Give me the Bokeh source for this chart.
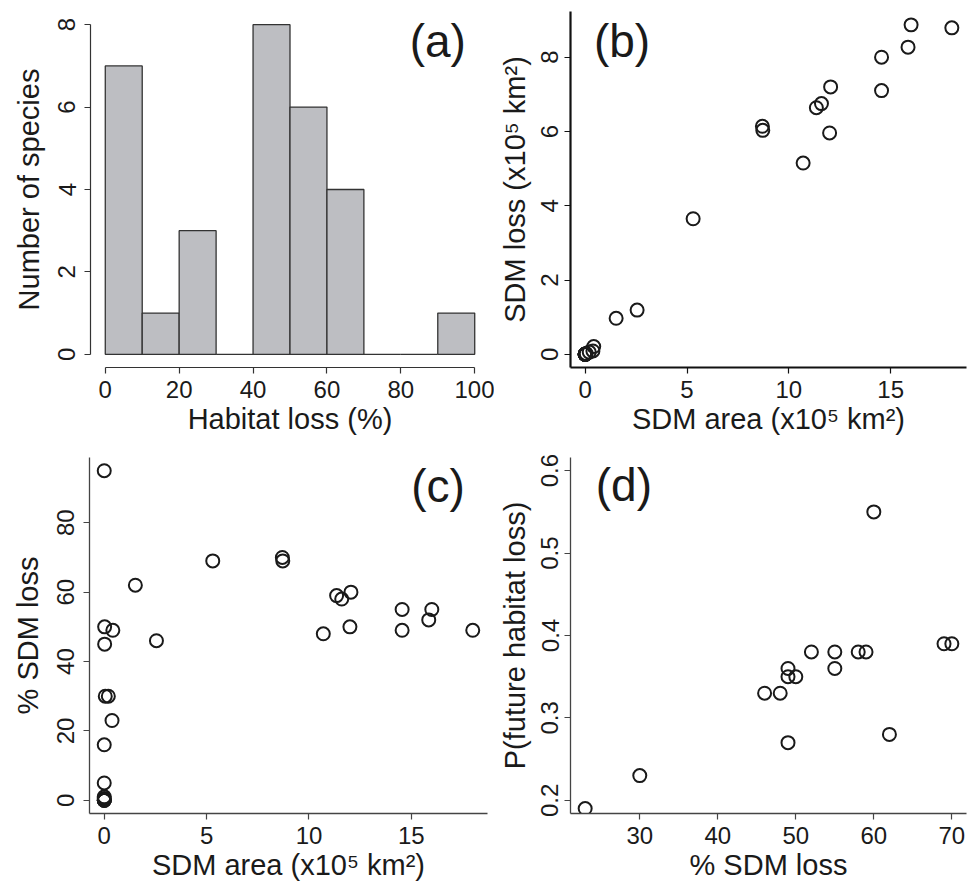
import math
from bokeh.plotting import figure
from bokeh.models import Range1d, FixedTicker, Label
from bokeh.layouts import column, row
from bokeh.embed import file_html
from bokeh.resources import INLINE

FONT = "Liberation Sans"
INK = "#1a1a1a"

# ---- (a) histogram of % SDM loss ----
bin_left = [0, 10, 20, 30, 40, 50, 60, 70, 80, 90]
bin_right = [10, 20, 30, 40, 50, 60, 70, 80, 90, 100]
hist_counts = [7, 1, 3, 0, 8, 6, 4, 0, 0, 1]

# ---- (b) and (c): per-species SDM values ----
sdm_area = [16.0, 18.0, 15.85, 14.55, 12.05, 14.55, 11.6, 11.35, 8.7, 8.72,
            12.0, 10.7, 5.3, 2.55, 1.52, 0.42, 0.38, 0.2, 0.05, 0.02,
            0.02, 0.0, 0.0, 0.0, 0.0, 0.0, 0.0, 0.0, 0.0, 0.0]
sdm_loss = [8.87, 8.79, 8.27, 8.0, 7.2, 7.1, 6.75, 6.64, 6.14, 6.03,
            5.96, 5.15, 3.65, 1.19, 0.97, 0.21, 0.09, 0.06, 0.02, 0.01,
            0.01, 0.0, 0.0, 0.0, 0.0, 0.0, 0.0, 0.0, 0.0, 0.0]
pct_sdm_loss = [55, 49, 52, 55, 60, 49, 58, 59, 70, 69,
                50, 48, 69, 46, 62, 49, 23, 30, 30, 50,
                45, 95, 16, 5, 1, 0.5, 0, 0, 0, 0]

# ---- (d) ----
d_pct_loss = [23, 30, 49, 62, 46, 48, 49, 50, 49, 55, 52, 55, 58, 59, 69, 70, 60]
d_p_future = [0.19, 0.23, 0.27, 0.28, 0.33, 0.33, 0.35, 0.35, 0.36, 0.36,
              0.38, 0.38, 0.38, 0.38, 0.39, 0.39, 0.55]

# tick positions
a_xticks = [0, 20, 40, 60, 80, 100]
a_yticks = [0, 2, 4, 6, 8]
b_xticks = [0, 5, 10, 15]
b_yticks = [0, 2, 4, 6, 8]
c_xticks = [0, 5, 10, 15]
c_yticks = [0, 20, 40, 60, 80]
d_xticks = [30, 40, 50, 60, 70]
d_yticks = [0.2, 0.3, 0.4, 0.5, 0.6]


def make_fig(width, height, xr, yr, mbl, mbr, mbt, mbb):
    p = figure(width=width, height=height, x_range=Range1d(*xr), y_range=Range1d(*yr),
               output_backend="svg", toolbar_location=None,
               min_border_left=mbl, min_border_right=mbr,
               min_border_top=mbt, min_border_bottom=mbb)
    p.grid.visible = False
    p.outline_line_color = None
    p.background_fill_color = "white"
    p.border_fill_color = "white"
    return p


def style(p, xticks, yticks, xlabel, ylabel, axis_w, axis_col, bounded, ylab_so, ytitle_so):
    p.xaxis.ticker = FixedTicker(ticks=xticks)
    p.yaxis.ticker = FixedTicker(ticks=yticks)
    p.xaxis.axis_label = xlabel
    p.yaxis.axis_label = ylabel
    if bounded:
        p.xaxis.bounds = (xticks[0], xticks[-1])
        p.yaxis.bounds = (yticks[0], yticks[-1])
    for ax in p.xaxis + p.yaxis:
        ax.axis_line_color = axis_col
        ax.axis_line_width = axis_w
        ax.major_tick_line_color = axis_col
        ax.major_tick_line_width = 1.2
        ax.major_tick_out = 6
        ax.major_tick_in = 0
        ax.minor_tick_out = 0
        ax.minor_tick_in = 0
        ax.major_label_text_font = FONT
        ax.major_label_text_font_size = "24px"
        ax.major_label_text_color = INK
        ax.axis_label_text_font = FONT
        ax.axis_label_text_font_size = "29px"
        ax.axis_label_text_font_style = "normal"
        ax.axis_label_text_color = INK
    p.xaxis.major_label_standoff = 7
    p.xaxis.axis_label_standoff = 2
    p.yaxis.major_label_standoff = ylab_so
    p.yaxis.axis_label_standoff = ytitle_so
    p.yaxis.major_label_orientation = "vertical"


def panel_label(p, x, y, txt):
    p.add_layout(Label(x=x, y=y, text=txt, text_font=FONT, text_font_size="46px",
                       text_align="center", text_baseline="middle", text_color=INK))


# (a)
pa = make_fig(494, 444, (-4, 104), (-0.32, 8.32), 90, 5, 11, 77)
pa.quad(left=bin_left, right=bin_right, bottom=0, top=hist_counts,
        fill_color="#bdbec2", line_color="#333333", line_width=1.3)
style(pa, a_xticks, a_yticks, "Habitat loss (%)", "Number of species", 1.2, "#333333", True, 9, 11)
panel_label(pa, 90, 7.61, "(a)")

# (b)
pb = make_fig(473, 444, (-0.72, 18.72), (-0.355, 9.23), 76, 1, 10, 77)
pb.scatter(sdm_area, sdm_loss, marker="circle", size=13, fill_color=None,
           line_color=INK, line_width=2)
style(pb, b_xticks, b_yticks, "SDM area (x10\u2075 km\u00b2)", "SDM loss (x10\u2075 km\u00b2)",
      2.2, "#111111", False, 6, 8)
panel_label(pb, 1.81, 8.44, "(b)")

# (c)
pc = make_fig(494, 439, (-0.72, 18.72), (-3.8, 98.8), 89, 7, 11, 70)
pc.scatter(sdm_area, pct_sdm_loss, marker="circle", size=13, fill_color=None,
           line_color=INK, line_width=2)
style(pc, c_xticks, c_yticks, "SDM area (x10\u2075 km\u00b2)", "% SDM loss", 1.3, "#444444", False, 9, 11)
panel_label(pc, 16.3, 90.6, "(c)")

# (d)
pd = make_fig(473, 439, (21.12, 71.88), (0.184, 0.616), 76, 1, 13, 69)
pd.scatter(d_pct_loss, d_p_future, marker="circle", size=13, fill_color=None,
           line_color=INK, line_width=2)
style(pd, d_xticks, d_yticks, "% SDM loss", "P(future habitat loss)", 1.3, "#444444", False, 6, 8)
panel_label(pd, 27.96, 0.583, "(d)")

layout = column(row(pa, pb), row(pc, pd))
open("out.html", "w").write(file_html(layout, INLINE))
